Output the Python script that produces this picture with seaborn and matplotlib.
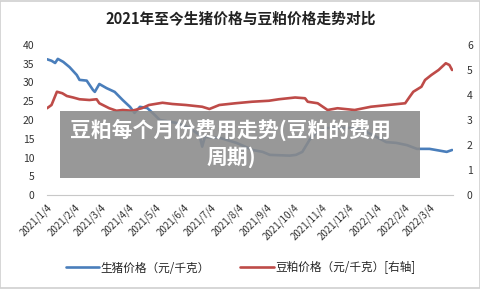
import numpy as np
import pandas as pd
import matplotlib
matplotlib.use("Agg")
import matplotlib.pyplot as plt
import matplotlib.dates as mdates
from matplotlib.patches import Rectangle
import seaborn as sns

sns.set_style("white")
plt.rcParams['font.family'] = ['Noto Sans CJK SC', 'DejaVu Sans']
plt.rcParams['axes.unicode_minus'] = False

# 生猪价格 (左轴)
pig_dates = ['2021-01-04', '2021-01-09', '2021-01-13', '2021-01-16', '2021-01-22', '2021-01-29',
             '2021-02-06', '2021-02-09', '2021-02-17', '2021-02-24', '2021-02-26', '2021-03-03',
             '2021-03-11', '2021-03-20', '2021-03-29', '2021-04-06', '2021-04-11', '2021-04-17',
             '2021-04-25', '2021-05-01', '2021-05-09', '2021-05-28', '2021-06-11', '2021-06-22',
             '2021-06-25', '2021-06-28', '2021-07-15', '2021-08-02', '2021-08-20', '2021-08-31',
             '2021-09-08', '2021-09-30', '2021-10-07', '2021-10-14', '2021-10-22', '2021-10-30',
             '2021-11-10', '2021-11-24', '2021-12-09', '2021-12-24', '2022-01-04', '2022-01-15',
             '2022-01-26', '2022-02-07', '2022-02-18', '2022-03-04', '2022-03-23', '2022-03-29']
pig_price = [36.2, 35.8, 35.2, 36.3, 35.5, 34.1,
             32.0, 30.7, 30.5, 28.0, 27.5, 29.6,
             28.5, 27.5, 25.3, 23.5, 21.9, 23.5,
             23.2, 21.9, 20.0, 19.2, 17.9, 16.0,
             12.9, 15.5, 15.2, 13.9, 12.0, 11.5,
             10.7, 10.5, 10.7, 11.5, 14.7, 16.8,
             17.9, 17.9, 17.9, 16.8, 15.5, 14.1,
             13.9, 13.3, 12.3, 12.3, 11.5, 12.0]

# 豆粕价格 (右轴)
meal_dates = ['2021-01-04', '2021-01-09', '2021-01-15', '2021-01-21', '2021-01-26', '2021-02-02',
              '2021-02-09', '2021-02-20', '2021-02-28', '2021-03-03', '2021-03-14', '2021-03-22',
              '2021-03-29', '2021-04-08', '2021-04-19', '2021-04-27', '2021-05-12', '2021-05-23',
              '2021-06-07', '2021-06-25', '2021-07-03', '2021-07-14', '2021-08-01', '2021-08-19',
              '2021-09-07', '2021-09-18', '2021-10-06', '2021-10-17', '2021-10-20', '2021-10-31',
              '2021-11-11', '2021-11-22', '2021-12-11', '2021-12-29', '2022-01-17', '2022-02-05',
              '2022-02-10', '2022-02-14', '2022-02-23', '2022-02-27', '2022-03-06', '2022-03-14',
              '2022-03-22', '2022-03-26', '2022-03-29']
meal_price = [3.47, 3.60, 4.13, 4.07, 3.96, 3.90,
              3.83, 3.80, 3.83, 3.67, 3.47, 3.37,
              3.40, 3.37, 3.47, 3.60, 3.69, 3.64,
              3.60, 3.53, 3.44, 3.60, 3.67, 3.73,
              3.77, 3.83, 3.90, 3.87, 3.73, 3.67,
              3.40, 3.47, 3.40, 3.53, 3.60, 3.67,
              3.93, 4.13, 4.33, 4.60, 4.80, 5.00,
              5.27, 5.20, 5.00]

tick_dates = ['2021-01-04', '2021-02-04', '2021-03-04', '2021-04-04', '2021-05-04',
              '2021-06-04', '2021-07-04', '2021-08-04', '2021-09-04', '2021-10-04',
              '2021-11-04', '2021-12-04', '2022-01-04', '2022-02-04', '2022-03-04']
tick_labels = ['2021/1/4', '2021/2/4', '2021/3/4', '2021/4/4', '2021/5/4', '2021/6/4',
               '2021/7/4', '2021/8/4', '2021/9/4', '2021/10/4', '2021/11/4', '2021/12/4',
               '2022/1/4', '2022/2/4', '2022/3/4']

pig = pd.DataFrame({'date': pd.to_datetime(pig_dates), 'price': pig_price})
meal = pd.DataFrame({'date': pd.to_datetime(meal_dates), 'price': meal_price})

blue = '#4a7ebb'
red = '#be4b48'

fig = plt.figure(figsize=(4.81, 2.89), dpi=100)
ax = fig.add_axes([47 / 481, 1 - 195 / 289, 406 / 481, 150 / 289])
ax2 = ax.twinx()

sns.lineplot(data=pig, x='date', y='price', ax=ax, color=blue, lw=1.9,
             label='生猪价格（元/千克）', legend=False)
sns.lineplot(data=meal, x='date', y='price', ax=ax2, color=red, lw=1.9,
             label='豆粕价格（元/千克）[右轴]', legend=False)

ax.set_xlim(pd.Timestamp('2021-01-04'), pd.Timestamp('2022-03-30'))
ax.set_ylim(0, 40)
ax2.set_ylim(0, 6)
ax.set_yticks(range(0, 41, 5))
ax2.set_yticks(range(0, 7))
ax.set_xticks(pd.to_datetime(tick_dates))
ax.set_xticklabels(tick_labels, rotation=45, ha='right', rotation_mode='anchor')
ax.set_xlabel('')
ax.set_ylabel('')
ax2.set_ylabel('')

for a in (ax, ax2):
    for s in ('top', 'left', 'right'):
        a.spines[s].set_visible(False)
    a.spines['bottom'].set_color('#c8c8c8')
ax2.spines['bottom'].set_visible(False)
ax.tick_params(axis='x', direction='out', length=3, color='#c8c8c8', labelsize=7, pad=2,
               labelcolor='#333333')
ax.tick_params(axis='y', length=0, labelsize=7.5, pad=9, labelcolor='#333333')
ax2.tick_params(axis='y', length=0, labelsize=7.5, pad=10, labelcolor='#333333')

fig.text(0.5, 1 - 18 / 289, '2021年至今生猪价格与豆粕价格走势对比', ha='center', va='center',
         fontsize=10.6, fontweight='bold', color='#222222')

h1, l1 = ax.get_legend_handles_labels()
h2, l2 = ax2.get_legend_handles_labels()
fig.legend(h1 + h2, l1 + l2, loc='center', bbox_to_anchor=(0.5, 1 - 268 / 289), ncol=2,
           frameon=False, fontsize=8.4, handlelength=2.9, columnspacing=2.6, handletextpad=0.1)

# 灰色遮罩文字
fig.patches.append(Rectangle((60 / 481, 1 - 178 / 289), 360 / 481, 67 / 289,
                             transform=fig.transFigure, facecolor='#8a8a8a', alpha=0.88,
                             edgecolor='none', zorder=5))
fig.text(231 / 481, 1 - 143 / 289, '豆粕每个月份费用走势(豆粕的费用\n周期)', ha='center', va='center',
         fontsize=15, fontweight='bold', color='white', linespacing=1.3, zorder=6)

fig.patches.append(Rectangle((0.001, 0.002), 0.997, 0.995, transform=fig.transFigure,
                             facecolor='none', edgecolor='#d0d0d0', lw=1.2, zorder=10))

fig.savefig('out.png', dpi=100)
